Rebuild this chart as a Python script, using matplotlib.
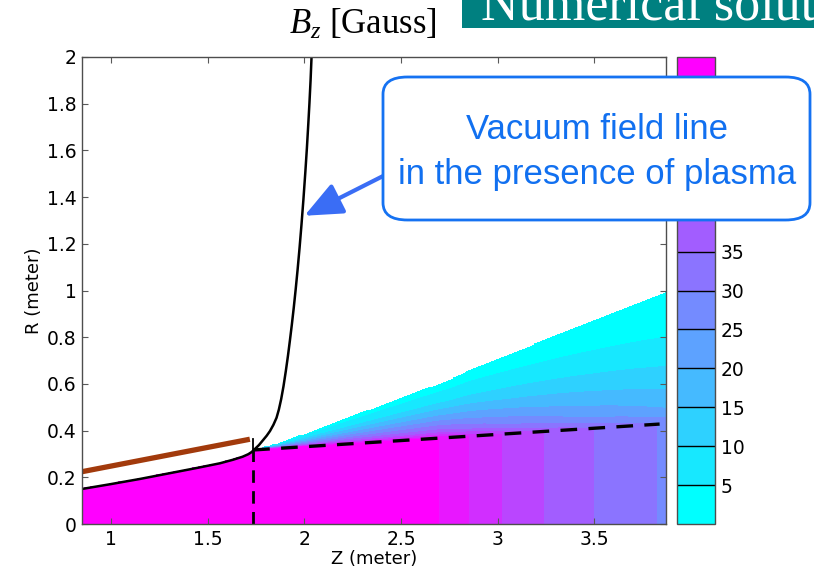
"""Bz map of the magnetic nozzle: contour field, plasma boundary and vacuum field line."""
import matplotlib

matplotlib.use("Agg")
import matplotlib.pyplot as plt  # noqa: E402
import numpy as np  # noqa: E402
from matplotlib.patches import FancyArrowPatch, FancyBboxPatch, Rectangle  # noqa: E402
from matplotlib.ticker import FuncFormatter  # noqa: E402

plt.rcParams.update({
    "font.family": "DejaVu Sans",
    "mathtext.fontset": "custom",
    "mathtext.rm": "Liberation Serif",
    "mathtext.it": "Liberation Serif:italic",
})

# contour levels of Bz [Gauss]
LEVELS = [0.75, 5, 10, 15, 20, 25, 30, 35, 40, 45, 50, 55, 59.4]
CB_TICKS = [5, 10, 15, 20, 25, 30, 35]

# Bz inside the plasma column vs Z (where the vertical contours cross)
PLASMA_Z = [0.85, 2.704, 2.847, 3.019, 3.234, 3.492, 3.823, 3.87]
PLASMA_B = [59.3, 55, 50, 45, 40, 35, 30, 29.3]

# plasma boundary (dashed) and outer edge of the computed domain
BOUND_Z = [1.735, 3.837]
BOUND_R = [0.317, 0.428]
TOP_Z = [1.735, 1.873, 2.75, 2.855, 3.87]
TOP_R = [0.318, 0.347, 0.617, 0.66, 0.995]

# vacuum contours at the downstream edge (Z = 3.87)
EDGE_R = [0.454, 0.495, 0.574, 0.674, 0.800]
EDGE_B = [25, 20, 15, 10, 5]
EDGE_B_MIN = 0.8

# vacuum field line in the presence of plasma
FL_Z = [0.85, 1.0, 1.15, 1.3, 1.45, 1.563, 1.63, 1.68, 1.71, 1.727,
        1.745, 1.765, 1.787, 1.805, 1.822, 1.84, 1.856, 1.868, 1.880,
        1.892, 1.904, 1.915, 1.925, 1.935, 1.945, 1.955, 1.965, 1.975,
        1.985, 1.995, 2.005, 2.013, 2.020, 2.026, 2.032, 2.037]
FL_R = [0.150, 0.171, 0.193, 0.217, 0.241, 0.260, 0.275, 0.288, 0.299, 0.308,
        0.322, 0.338, 0.360, 0.378, 0.398, 0.425, 0.455, 0.490, 0.535,
        0.590, 0.655, 0.720, 0.785, 0.853, 0.926, 1.005, 1.090, 1.182,
        1.282, 1.390, 1.508, 1.610, 1.710, 1.800, 1.900, 2.0]

# nozzle wall
WALL_Z = [0.85, 1.718]
WALL_R = [0.224, 0.363]

W, H = 814, 574


def fx(x):
    return x / W


def fy(y):
    return 1 - y / H


# build the Bz grid from the contour positions above
zg = np.linspace(0.85, 3.87, 196)
rg = np.linspace(0.0, 1.05, 211)
Z, R = np.meshgrid(zg, rg)

rd_e = BOUND_R[-1] + (3.87 - BOUND_Z[-1]) * 0.0528
bp = np.interp(Z, PLASMA_Z, PLASMA_B)
rd = np.interp(Z, BOUND_Z, BOUND_R, right=rd_e)
rt = np.interp(Z, TOP_Z, TOP_R)

rt_e = TOP_R[-1]
b_e = PLASMA_B[-1]
s_prof = [0.0] + [(r - rd_e) / (rt_e - rd_e) for r in EDGE_R] + [1.0]
f_prof = [1.0] + [b / b_e for b in EDGE_B] + [EDGE_B_MIN / b_e]

s = np.clip((R - rd) / np.maximum(rt - rd, 1e-6), 0, 1)
bz = np.where(R <= rd, bp, bp * np.interp(s, s_prof, f_prof))
bz = np.clip(bz, 0.8, 59.3)

r_fl = np.interp(Z, FL_Z, FL_R)
mask = np.where(Z < BOUND_Z[0], R > r_fl + 0.004, R > rt)
bz = np.ma.masked_array(bz, mask)

fig = plt.figure(figsize=(W / 100, H / 100), dpi=100)
ax = fig.add_axes([fx(82), fy(524), (666 - 82) / W, (524 - 57) / H])
cax = fig.add_axes([fx(677), fy(524), (715 - 677) / W, (524 - 57) / H])

colors = plt.cm.cool(np.linspace(0, 1, len(LEVELS) - 1))
cs = ax.contourf(Z, R, bz, levels=LEVELS, colors=colors, antialiased=False)

ax.plot(WALL_Z, WALL_R, color="#a23a0c", lw=3.8, solid_capstyle="butt")
ax.plot(FL_Z, FL_R, color="black", lw=1.8)
ax.plot([BOUND_Z[0], BOUND_Z[0]], [BOUND_R[0], 0.364], color="black", lw=1.3)
ax.plot([BOUND_Z[0], BOUND_Z[0]], [0, BOUND_R[0]], color="black", lw=2.0,
        linestyle=(0, (4.5, 3.0)))
ax.plot(BOUND_Z, BOUND_R, color="black", lw=2.4, linestyle=(0, (5.0, 3.4)))

ax.set_xlim(0.85, 3.87)
ax.set_ylim(0, 2)
ax.set_xticks([1, 1.5, 2, 2.5, 3, 3.5])
ax.set_yticks(np.arange(0, 2.01, 0.2))
fmt = FuncFormatter(lambda v, _: f"{v:g}")
ax.xaxis.set_major_formatter(fmt)
ax.yaxis.set_major_formatter(fmt)
ax.tick_params(direction="in", top=True, right=True, length=4, width=0.8,
               color="0.35", labelsize=13.5, pad=4)
for sp in ax.spines.values():
    sp.set_color("0.3")
    sp.set_linewidth(1.0)
ax.set_xlabel("Z (meter)", fontsize=13, labelpad=1)
ax.set_ylabel("R (meter)", fontsize=13, labelpad=3)

cb = fig.colorbar(cs, cax=cax, ticks=CB_TICKS, drawedges=True)
cb.dividers.set_color("black")
cb.dividers.set_linewidth(1.0)
cb.outline.set_edgecolor("0.3")
cb.outline.set_linewidth(1.0)
cax.yaxis.set_major_formatter(fmt)
cax.tick_params(direction="in", length=0, labelsize=13.5, pad=4)

# title
fig.text(fx(363), fy(34), r"$B_z$ [Gauss]", family="Liberation Serif",
         fontsize=25, ha="center", va="baseline")

# slide header strip
fig.add_artist(Rectangle((fx(462), fy(28.3)), (W - 462) / W, 28.3 / H,
                         transform=fig.transFigure, facecolor="#008080",
                         edgecolor="none", zorder=2))
fig.text(fx(481), fy(19), "Numerical solution", family="Liberation Serif",
         fontsize=37.5, color="white", ha="left", va="baseline", zorder=3)

# callout with arrow to the field line
fig.add_artist(FancyArrowPatch((fx(395), fy(170)), (fx(302), fy(217)),
                               transform=fig.transFigure,
                               arrowstyle="-|>,head_length=2.3,head_width=1.0",
                               mutation_scale=10, lw=3.0, color="#3a6df5",
                               zorder=4))
fig.add_artist(FancyBboxPatch((fx(383), fy(220)), (810 - 383) / W, (220 - 77) / H,
                              boxstyle="round,pad=0,rounding_size=0.03",
                              transform=fig.transFigure, facecolor="white",
                              edgecolor="#1572f2", lw=2.0, zorder=5))
fig.text(fx(597), fy(152), "Vacuum field line\nin the presence of plasma",
         family="Liberation Sans", fontsize=25, color="#1170f0",
         ha="center", va="center", linespacing=1.45, zorder=6)

fig.savefig("out.png", dpi=100)
